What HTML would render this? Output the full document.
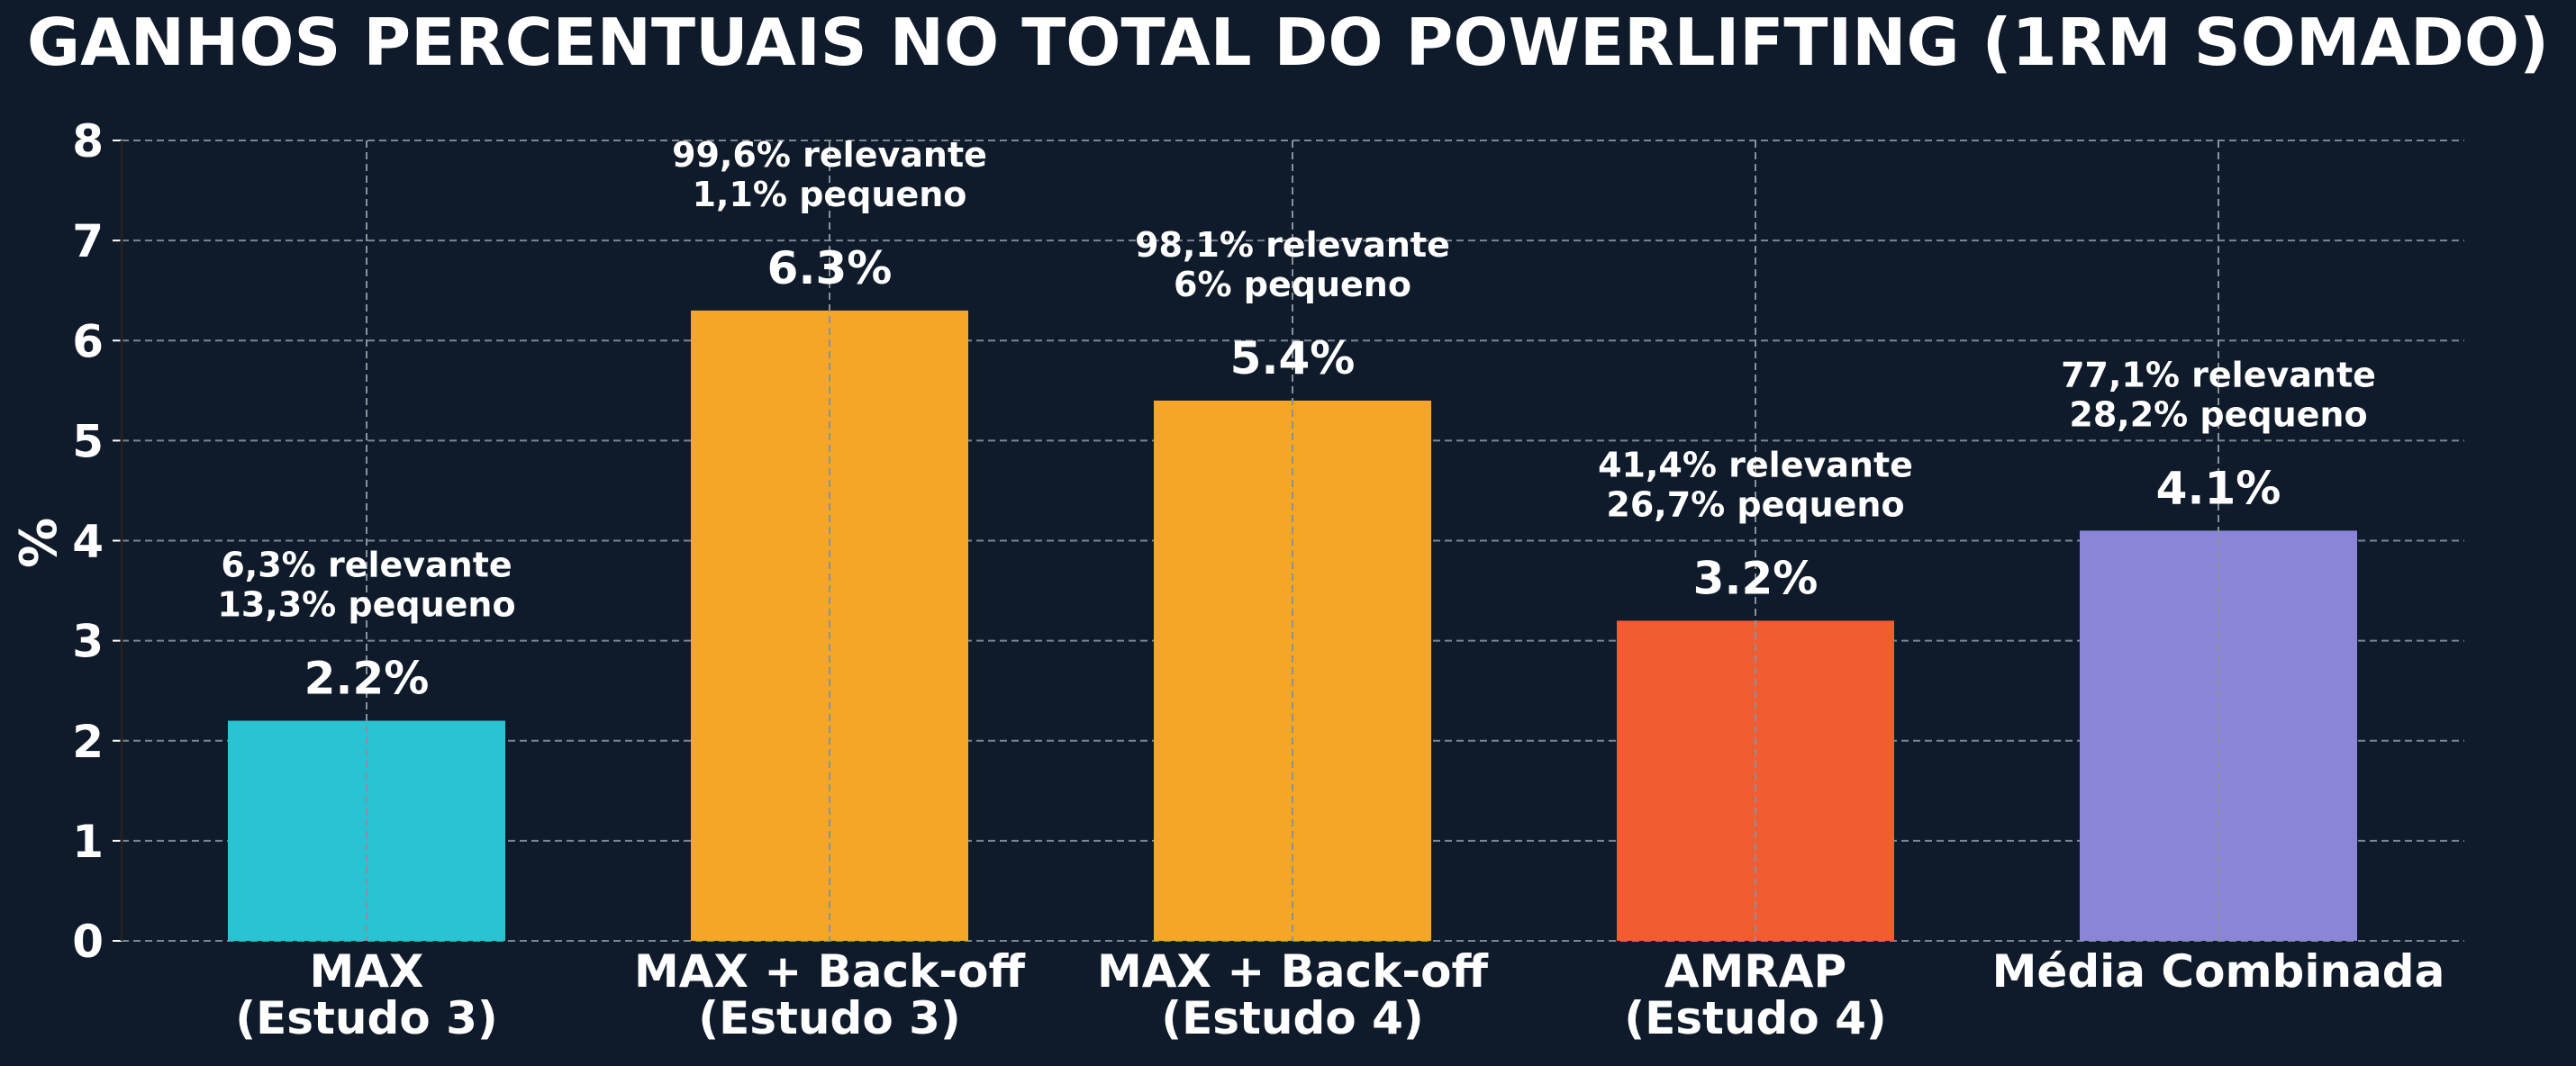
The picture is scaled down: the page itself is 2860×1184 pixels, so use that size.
<!DOCTYPE html>
<html><head><meta charset="utf-8"><style>
html,body{margin:0;padding:0;background:#0f1b2a;}
svg text{font-family:"DejaVu Sans","Liberation Sans",sans-serif;font-weight:bold;fill:#fff;}
</style></head><body>
<svg id="chart" width="2860" height="1179" viewBox="0 0 2860 1179" xmlns="http://www.w3.org/2000/svg">
<rect width="2860" height="1179" fill="#0f1b2a"/>
<text x="1430" y="72" text-anchor="middle" font-size="72" textLength="2800" lengthAdjust="spacingAndGlyphs">GANHOS PERCENTUAIS NO TOTAL DO POWERLIFTING (1RM SOMADO)</text>
<text transform="translate(62,603) rotate(-90)" text-anchor="middle" font-size="56">%</text>
<g id="grid"></g><g id="bars"></g><g id="labels"></g>
</svg>
<script>
const categories = [["MAX","(Estudo 3)"],["MAX + Back-off","(Estudo 3)"],["MAX + Back-off","(Estudo 4)"],["AMRAP","(Estudo 4)"],["Média Combinada"]];
const values = [2.2, 6.3, 5.4, 3.2, 4.1];
const relevant = ["6,3% relevante","99,6% relevante","98,1% relevante","41,4% relevante","77,1% relevante"];
const small = ["13,3% pequeno","1,1% pequeno","6% pequeno","26,7% pequeno","28,2% pequeno"];
const yTicks = [0,1,2,3,4,5,6,7,8];
const colors = ["#2ac3d3","#f4a726","#f4a726","#f25c30","#8a85d6"];

const NS="http://www.w3.org/2000/svg";
const X0=135, X1=2736, Y0=1045, Y8=156;
const y = v => Y0 - v*(Y0-Y8)/8;
const xc = i => 407 + i*514;
const BW = 308;
function mk(tag, attrs, parent){const e=document.createElementNS(NS,tag);for(const k in attrs)e.setAttribute(k,attrs[k]);parent.appendChild(e);return e;}
const grid=document.getElementById('grid'), bars=document.getElementById('bars'), labels=document.getElementById('labels');

yTicks.forEach(t=>{
  const l=mk('line',{x1:X0,x2:X1,y1:y(t),y2:y(t),stroke:'#7d8590','stroke-width':2,'stroke-dasharray':'8,5'},grid);
  
  
  const tk=mk('line',{x1:X0-10,x2:X0,y1:y(t),y2:y(t),stroke:'#ffffff','stroke-width':2},grid);
  
  
  const tx=mk('text',{x:X0-20,y:y(t)+18,'text-anchor':'end','font-size':50},labels);
  tx.textContent=t;
  
  
});
const ax=mk('line',{x1:X0,x2:X0,y1:Y8,y2:Y0,stroke:'#222','stroke-width':3},grid);



values.forEach((v,i)=>{
  const cx=xc(i);
  const b=mk('rect',{x:cx-BW/2,y:y(v),width:BW,height:Y0-y(v),fill:colors[i]},bars);
  
  
  const g=mk('line',{x1:cx,x2:cx,y1:Y8,y2:Y0,stroke:'#8a919a','stroke-width':2,'stroke-dasharray':'8,5'},bars);
  
  
  const vl=mk('text',{x:cx,y:y(v)-30,'text-anchor':'middle','font-size':50},labels);
  vl.textContent=v.toFixed(1)+'%';
  
  
  const a1=mk('text',{x:cx,y:y(v)-160,'text-anchor':'middle','font-size':38},labels);
  a1.textContent=relevant[i];
  
  
  const a2=mk('text',{x:cx,y:y(v)-116,'text-anchor':'middle','font-size':38},labels);
  a2.textContent=small[i];
  
  
  categories[i].forEach((line,j)=>{
    const c=mk('text',{x:cx,y:1096+j*52,'text-anchor':'middle','font-size':50},labels);
    c.textContent=line;
    
    
  });
});
</script>
</body></html>
